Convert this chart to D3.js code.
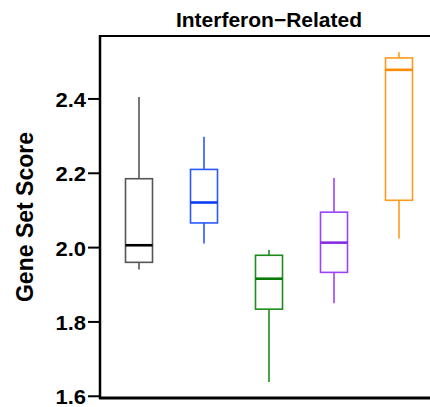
<!DOCTYPE html>
<html>
<head>
<meta charset="utf-8">
<script src="https://cdn.jsdelivr.net/npm/d3@7"></script>
<style>
  body { margin: 0; background: #fff; }
  text { font-family: "Liberation Sans", Arial, sans-serif; font-weight: bold; fill: #000; }
</style>
</head>
<body>
<script>
// box stats per group
var groups = ["Group 1", "Group 2", "Group 3", "Group 4", "Group 5"];
var whiskerLow  = [1.940, 2.010, 1.637, 1.849, 2.023];
var q1          = [1.959, 2.065, 1.833, 1.932, 2.126];
var median      = [2.005, 2.120, 1.915, 2.012, 2.477];
var q3          = [2.184, 2.209, 1.978, 2.094, 2.509];
var whiskerHigh = [2.404, 2.297, 1.992, 2.186, 2.524];
var yTicks = [1.6, 1.8, 2.0, 2.2, 2.4];
var boxColors    = ["#555555", "#2a58ff", "#1c8c1c", "#9b42ff", "#ff9a1e"];
var medianColors = ["#000000", "#0a3cf0", "#087a08", "#8a2be2", "#ff8c00"];

var W = 430, H = 407;
var plotLeft = 100, plotTop = 36, plotBottom = 398;

var svg = d3.select(document.body)
    .append('svg')
    .attr('width', W)
    .attr('height', H);

var x = d3.scalePoint().domain(groups).range([139, 399]);
var y = d3.scaleLinear().domain([1.594, 2.568]).range([plotBottom, plotTop]);
var boxW = 27;

var data = groups.map(function(g, i){
    return {g: g, lo: whiskerLow[i], q1: q1[i], med: median[i], q3: q3[i], hi: whiskerHigh[i],
            col: boxColors[i], mcol: medianColors[i]};
});

// title
svg.append('text')
    .attr('x', 269).attr('y', 27)
    .attr('text-anchor', 'middle')
    .style('font-size', '21px')
    .text('Interferon\u2212Related');

// y axis label
svg.append('text')
    .attr('transform', 'translate(33,' + ((plotTop + plotBottom) / 2) + ') rotate(-90)')
    .attr('text-anchor', 'middle')
    .style('font-size', '23px')
    .text('Gene Set Score');

// y axis
var yAxis = svg.append('g')
    .attr('transform', 'translate(' + plotLeft + ',0)')
    .call(d3.axisLeft(y).tickValues(yTicks).tickFormat(d3.format('.1f')).tickSize(12).tickPadding(2));
yAxis.select('.domain').remove();
yAxis.selectAll('line').attr('stroke', '#000').attr('stroke-width', 2);
// tick labels are a little wide in the original
var sx = 1.1;
yAxis.selectAll('text')
    .style('font-size', '20px')
    .attr('font-family', null)
    .attr('x', -14 / sx)
    .attr('dy', '0.4em')
    .attr('transform', 'scale(' + sx + ',1)');

// frame lines
svg.append('line').attr('x1', plotLeft).attr('x2', plotLeft).attr('y1', plotTop - 1).attr('y2', plotBottom + 1)
    .attr('stroke', '#000').attr('stroke-width', 2.5);
svg.append('line').attr('x1', plotLeft).attr('x2', W).attr('y1', plotTop).attr('y2', plotTop)
    .attr('stroke', '#000').attr('stroke-width', 2);
svg.append('line').attr('x1', plotLeft - 1).attr('x2', W).attr('y1', plotBottom).attr('y2', plotBottom)
    .attr('stroke', '#000').attr('stroke-width', 3.2);

// boxes
var box = svg.selectAll('g.box')
    .data(data)
    .enter()
    .append('g')
    .attr('class', 'box');

box.append('line') // upper whisker
    .attr('x1', function(d){ return x(d.g); })
    .attr('x2', function(d){ return x(d.g); })
    .attr('y1', function(d){ return y(d.hi); })
    .attr('y2', function(d){ return y(d.q3); })
    .attr('stroke', function(d){ return d.col; })
    .attr('stroke-width', 1.6);

box.append('line') // lower whisker
    .attr('x1', function(d){ return x(d.g); })
    .attr('x2', function(d){ return x(d.g); })
    .attr('y1', function(d){ return y(d.q1); })
    .attr('y2', function(d){ return y(d.lo); })
    .attr('stroke', function(d){ return d.col; })
    .attr('stroke-width', 1.6);

box.append('rect')
    .attr('x', function(d){ return x(d.g) - boxW / 2; })
    .attr('y', function(d){ return y(d.q3); })
    .attr('width', boxW)
    .attr('height', function(d){ return y(d.q1) - y(d.q3); })
    .attr('fill', 'none')
    .attr('stroke', function(d){ return d.col; })
    .attr('stroke-width', 1.6);

box.append('line') // median
    .attr('x1', function(d){ return x(d.g) - boxW / 2; })
    .attr('x2', function(d){ return x(d.g) + boxW / 2; })
    .attr('y1', function(d){ return y(d.med); })
    .attr('y2', function(d){ return y(d.med); })
    .attr('stroke', function(d){ return d.mcol; })
    .attr('stroke-width', 2.6);
</script>
</body>
</html>
